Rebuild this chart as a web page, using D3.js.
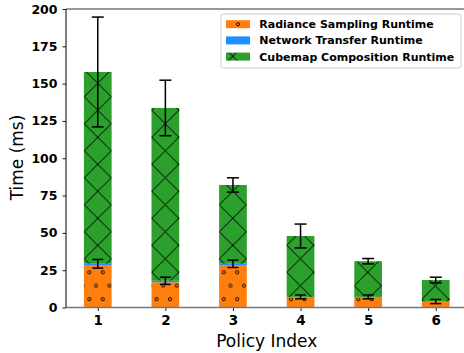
<!DOCTYPE html>
<html>
<head>
<meta charset="utf-8">
<script src="https://cdn.jsdelivr.net/npm/d3@7"></script>
<style>
  html, body { margin: 0; padding: 0; background: #fff; }
  svg { display: block; }
  text { font-family: "DejaVu Sans", sans-serif; }
</style>
</head>
<body>
<svg id="chart" width="464" height="353"></svg>
<script>
// Runtime breakdown per policy (ms)
const policies   = [1, 2, 3, 4, 5, 6];
const radiance   = [28.5, 16.9, 28.5, 6.6, 6.6, 3.7];
const network    = [0.8, 1.0, 0.8, 0.5, 0.5, 0.3];
const cubemap    = [128.5, 115.8, 52.8, 40.8, 23.9, 14.4];
const networkErr = [2.9, 2.4, 2.5, 1.3, 1.3, 1.4];
const cubemapErr = [36.8, 18.6, 4.8, 8.0, 1.8, 1.9];
const yTicks     = [0, 25, 50, 75, 100, 125, 150, 175, 200];
const seriesNames = ["Radiance Sampling Runtime", "Network Transfer Runtime", "Cubemap Composition Runtime"];

const COLORS = { radiance: "#ff7f0e", network: "#1e90ff", cubemap: "#2ca02c" };
const BAR_W = 0.41;

const svg = d3.select("#chart");

const x = d3.scaleLinear().domain([0.53, 6.47]).range([66, 467.5]);
const y = d3.scaleLinear().domain([0, 200]).range([307.5, 9]);

// hatch patterns
const defs = svg.append("defs");
const P = 27;
const cross = defs.append("pattern")
  .attr("id", "hatch-x").attr("patternUnits", "userSpaceOnUse")
  .attr("width", P).attr("height", P)
  .attr("x", x(1) % P).attr("y", 83.3 % P);
cross.append("rect").attr("width", P).attr("height", P).attr("fill", COLORS.cubemap);
cross.append("path")
  .attr("d", `M-2,-2L${P + 2},${P + 2}M-2,${P + 2}L${P + 2},-2`)
  .attr("stroke", "#000").attr("stroke-width", 1).attr("fill", "none");

const DW = 13.45, DH = 26.9;
const dots = defs.append("pattern")
  .attr("id", "hatch-o").attr("patternUnits", "userSpaceOnUse")
  .attr("width", DW).attr("height", DH)
  .attr("x", 89.3 % DW).attr("y", 272.3 % DH);
dots.append("rect").attr("width", DW).attr("height", DH).attr("fill", COLORS.radiance);
[[0, 0], [DW, 0], [0, DH], [DW, DH], [DW / 2, DH / 2]].forEach(([cx, cy]) => {
  dots.append("circle").attr("cx", cx).attr("cy", cy).attr("r", 1.6)
    .attr("fill", "none").attr("stroke", "#000").attr("stroke-width", 0.9);
});

const rows = policies.map((p, i) => ({
  p,
  r: radiance[i],
  n: network[i],
  c: cubemap[i],
  nErr: networkErr[i],
  cErr: cubemapErr[i]
}));

const g = svg.append("g");

// stacked bars
g.selectAll(".bar-r").data(rows).join("rect")
  .attr("x", d => x(d.p - BAR_W / 2))
  .attr("width", d => x(d.p + BAR_W / 2) - x(d.p - BAR_W / 2))
  .attr("y", d => y(d.r))
  .attr("height", d => y(0) - y(d.r))
  .attr("fill", "url(#hatch-o)");

g.selectAll(".bar-n").data(rows).join("rect")
  .attr("x", d => x(d.p - BAR_W / 2))
  .attr("width", d => x(d.p + BAR_W / 2) - x(d.p - BAR_W / 2))
  .attr("y", d => y(d.r + d.n))
  .attr("height", d => y(d.r) - y(d.r + d.n))
  .attr("fill", COLORS.network);

g.selectAll(".bar-c").data(rows).join("rect")
  .attr("x", d => x(d.p - BAR_W / 2))
  .attr("width", d => x(d.p + BAR_W / 2) - x(d.p - BAR_W / 2))
  .attr("y", d => y(d.r + d.n + d.c))
  .attr("height", d => y(d.r + d.n) - y(d.r + d.n + d.c))
  .attr("fill", "url(#hatch-x)");

// error bars
function errorBars(data, center, err, cap) {
  const eg = g.append("g").attr("stroke", "#000").attr("stroke-width", 1.5).attr("fill", "none");
  data.forEach(d => {
    const cx = x(d.p);
    const lo = y(center(d) - err(d)), hi = y(center(d) + err(d));
    eg.append("line").attr("x1", cx).attr("x2", cx).attr("y1", lo).attr("y2", hi);
    eg.append("line").attr("x1", cx - cap).attr("x2", cx + cap).attr("y1", lo).attr("y2", lo);
    eg.append("line").attr("x1", cx - cap).attr("x2", cx + cap).attr("y1", hi).attr("y2", hi);
  });
}
errorBars(rows, d => d.r + d.n, d => d.nErr, 5.5);
errorBars(rows, d => d.r + d.n + d.c, d => d.cErr, 6);

// axes
const yAxis = svg.append("g").attr("transform", `translate(${x.range()[0]},0)`)
  .call(d3.axisLeft(y).tickValues(yTicks).tickSize(3.5).tickPadding(5));
yAxis.select(".domain").remove();
yAxis.selectAll("text").attr("font-size", 12.5).attr("font-weight", "bold")
  .attr("font-family", "DejaVu Sans").attr("fill", "#000");
yAxis.selectAll("line").attr("stroke", "#000").attr("stroke-width", 0.9);

const xAxis = svg.append("g").attr("transform", `translate(0,${y(0)})`)
  .call(d3.axisBottom(x).tickValues(policies).tickFormat(d3.format("d")).tickSize(3.5).tickPadding(4));
xAxis.select(".domain").remove();
xAxis.selectAll("text").attr("font-size", 13.5).attr("font-weight", "bold")
  .attr("font-family", "DejaVu Sans").attr("fill", "#000");
xAxis.selectAll("line").attr("stroke", "#000").attr("stroke-width", 0.9);

// spines
svg.append("line").attr("x1", x.range()[0]).attr("x2", x.range()[1])
  .attr("y1", y(0)).attr("y2", y(0)).attr("stroke", "#777").attr("stroke-width", 1.6);
svg.append("line").attr("x1", x.range()[0]).attr("x2", x.range()[1])
  .attr("y1", y(200)).attr("y2", y(200)).attr("stroke", "#777").attr("stroke-width", 1.6);
svg.append("line").attr("x1", x.range()[0]).attr("x2", x.range()[0])
  .attr("y1", y(0)).attr("y2", y(200)).attr("stroke", "#000").attr("stroke-width", 1);

// axis titles
svg.append("text").attr("transform", "translate(22.5,157.5) rotate(-90)")
  .attr("text-anchor", "middle").attr("font-size", 17).text("Time (ms)");
svg.append("text").attr("x", 266.7).attr("y", 346.5)
  .attr("text-anchor", "middle").attr("font-size", 17).text("Policy Index");

// legend
const lg = svg.append("g");
lg.append("rect").attr("x", 221).attr("y", 14).attr("width", 240).attr("height", 54)
  .attr("rx", 2.5).attr("fill", "#fff").attr("fill-opacity", 0.8)
  .attr("stroke", "#ccc").attr("stroke-width", 1);
const fills = ["radiance", "network", "cubemap"];
seriesNames.forEach((name, i) => {
  const cy = 24.2 + i * 16.2;
  const key = fills[i];
  const patch = lg.append("rect").attr("x", 226).attr("y", cy - 4).attr("width", 24).attr("height", 8);
  if (key === "cubemap") patch.attr("fill", "url(#hatch-x)");
  else patch.attr("fill", COLORS[key]);
  if (key === "radiance") {
    lg.append("circle").attr("cx", 238).attr("cy", cy).attr("r", 1.6)
      .attr("fill", "none").attr("stroke", "#000").attr("stroke-width", 0.9);
  }
  lg.append("text").attr("x", 259.3).attr("y", cy + 4)
    .attr("font-size", 11).attr("font-weight", "bold").text(name);
});
</script>
</body>
</html>
